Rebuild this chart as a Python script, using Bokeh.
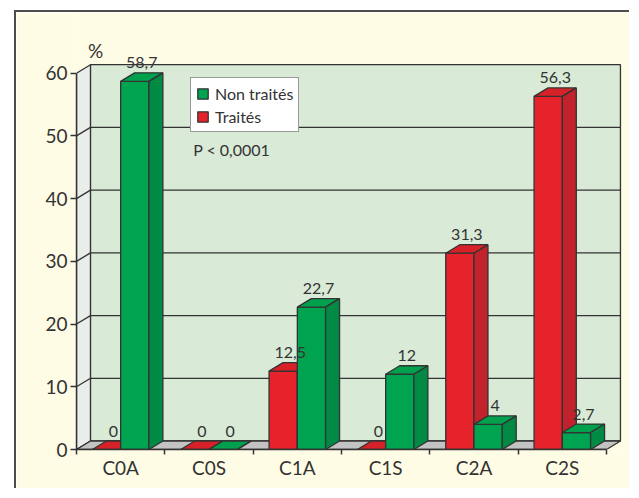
from bokeh.plotting import figure
from bokeh.models import (ColumnDataSource, FixedTicker, Legend, LegendItem, Label,
                          Range1d)
from bokeh.embed import file_html
from bokeh.resources import INLINE
from bokeh.core.properties import value

# ---------------- data ----------------
categories = ["C0A", "C0S", "C1A", "C1S", "C2A", "C2S"]
traites = [0, 0, 12.5, 0, 31.3, 56.3]
non_traites = [58.7, 0, 22.7, 12, 4, 2.7]
y_ticks = [0, 10, 20, 30, 40, 50, 60]
series_names = ["Non traités", "Traités"]
p_value_text = "P < 0,0001"
unit_text = "%"

# ---------------- styles ----------------
FONT = "Lato"
TXT = "#333333"
EDGE = "#333333"
CREAM = "#fffce6"
WALL = "#d9ead7"
SIDE_WALL = "#eaeeea"
FLOOR = "#c3c3c3"
GREEN = {"front": "#00a34f", "top": "#00a04c", "side": "#008a43"}
RED = {"front": "#e6232a", "top": "#d62128", "side": "#c1222c"}

BAR_W = 0.32      # bar width in category units
DX = 0.158        # depth offset (x, category units)
DY = 1.355        # depth offset (y, value units)
Y_MAX = 60

p = figure(width=615, height=478, output_backend="svg", toolbar_location=None,
           x_range=Range1d(0, 6.283), y_range=Range1d(0, 69.68),
           min_border_left=60, min_border_right=0, min_border_top=0,
           min_border_bottom=41)
p.margin = (10, 0, 0, 14)
p.styles = {"border-left": "2px solid #4d4d4d", "border-top": "2px solid #4d4d4d"}
p.background_fill_color = CREAM
p.border_fill_color = CREAM
p.outline_line_color = None
p.xgrid.visible = False
p.ygrid.visible = False

n = len(categories)

# back wall
p.patch([DX, n + DX, n + DX, DX], [DY, DY, Y_MAX + DY, Y_MAX + DY],
        fill_color=WALL, line_color=EDGE, line_width=1.3)
# left side wall
p.patch([0, DX, DX, 0], [0, DY, Y_MAX + DY, Y_MAX],
        fill_color=SIDE_WALL, line_color=EDGE, line_width=1.3)
# floor
p.patch([0, n, n + DX, DX], [0, 0, DY, DY],
        fill_color=FLOOR, line_color=EDGE, line_width=1.3)

# grid lines on back wall and side wall
gx0, gy0, gx1, gy1 = [], [], [], []
for t in y_ticks[1:-1]:
    gx0 += [DX, 0]
    gy0 += [t + DY, t]
    gx1 += [n + DX, DX]
    gy1 += [t + DY, t + DY]
p.segment(gx0, gy0, gx1, gy1, line_color=EDGE, line_width=1.3)

# 3D bars
xs, ys, fills = [], [], []
lx, ly, ltxt = [], [], []
for i in range(n):
    c = i + 0.5
    for x0, v, col in ((c - BAR_W, traites[i], RED), (c, non_traites[i], GREEN)):
        x1 = x0 + BAR_W
        xs.append([x0, x1, x1, x0]); ys.append([0, 0, v, v]); fills.append(col["front"])
        xs.append([x0, x1, x1 + DX, x0 + DX]); ys.append([v, v, v + DY, v + DY]); fills.append(col["top"])
        xs.append([x1, x1 + DX, x1 + DX, x1]); ys.append([0, DY, v + DY, v]); fills.append(col["side"])
        lx.append(x0 + BAR_W / 2 + DX / 2)
        ly.append(v + DY)
        ltxt.append(f"{v:g}".replace(".", ","))

p.patches(xs="xs", ys="ys", fill_color="fill", line_color=EDGE, line_width=1.3,
          source=ColumnDataSource(dict(xs=xs, ys=ys, fill=fills)))

p.text(x="x", y="y", text="t", source=ColumnDataSource(dict(x=lx, y=ly, t=ltxt)),
       text_font=value(FONT), text_font_size="16px", text_color=TXT,
       text_align="center", text_baseline="alphabetic", y_offset=-10)

# axes
ya = p.yaxis[0]
ya.ticker = FixedTicker(ticks=y_ticks, minor_ticks=[])
ya.bounds = (0, Y_MAX)
ya.axis_line_color = EDGE
ya.axis_line_width = 1.5
ya.major_tick_line_color = EDGE
ya.major_tick_line_width = 1.5
ya.major_tick_out = 6
ya.major_tick_in = 0
ya.minor_tick_line_color = None
ya.major_label_text_font = FONT
ya.major_label_text_font_size = "19px"
ya.major_label_text_color = TXT
ya.major_label_standoff = 3

xa = p.xaxis[0]
xa.ticker = FixedTicker(ticks=[i + 0.5 for i in range(n)],
                        minor_ticks=list(range(n + 1)))
xa.major_label_overrides = {i + 0.5: categories[i] for i in range(n)}
xa.bounds = (0, n)
xa.axis_line_color = EDGE
xa.axis_line_width = 1.5
xa.major_tick_line_color = None
xa.major_tick_out = 0
xa.major_tick_in = 0
xa.minor_tick_line_color = EDGE
xa.minor_tick_line_width = 1.5
xa.minor_tick_out = 5
xa.minor_tick_in = 0
xa.major_label_text_font = FONT
xa.major_label_text_font_size = "19px"
xa.major_label_text_color = TXT
xa.major_label_standoff = 1

# annotations
p.add_layout(Label(x=0.215, y=63.6, text=unit_text, text_font=FONT, text_font_size="19px",
                   text_color=TXT, text_align="center", text_baseline="alphabetic"))
p.add_layout(Label(x=1.321, y=47.9, text=p_value_text, text_font=FONT, text_font_size="16px",
                   text_color=TXT, text_baseline="alphabetic"))

# legend (dummy off-range glyphs for the swatches)
r_g = p.quad(left=[-10], right=[-9], top=[-10], bottom=[-11],
             fill_color=GREEN["front"], line_color=EDGE, line_width=1.3)
r_r = p.quad(left=[-10], right=[-9], top=[-10], bottom=[-11],
             fill_color=RED["front"], line_color=EDGE, line_width=1.3)
leg = Legend(items=[LegendItem(label=series_names[0], renderers=[r_g]),
                    LegendItem(label=series_names[1], renderers=[r_r])],
             location=(114, 317), orientation="vertical",
             background_fill_color="white", background_fill_alpha=1,
             border_line_color=EDGE, border_line_width=1.5,
             label_text_font=FONT, label_text_font_size="16px", label_text_color=TXT,
             glyph_width=13, glyph_height=13, label_height=20, spacing=3,
             padding=5, margin=0, label_standoff=6)
p.add_layout(leg, "center")

open("out.html", "w").write(file_html(p, INLINE))
